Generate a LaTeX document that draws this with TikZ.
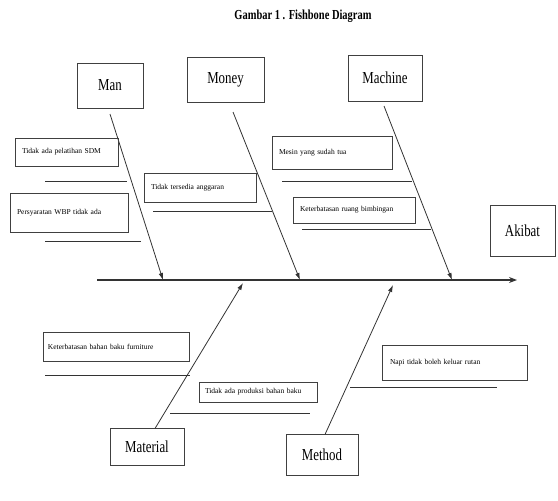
\documentclass[tikz,border=0pt]{standalone}
\usepackage{fontspec}
\setmainfont{Liberation Serif}
\usetikzlibrary{arrows.meta}
\newcommand{\tallcat}[1]{\scalebox{0.92}[1.2]{#1}}
\begin{document}
\begin{tikzpicture}[x=1pt,y=-1pt,
  catbox/.style={draw=black!75, line width=0.9pt, font=\fontsize{14}{16}\selectfont, inner sep=0pt},
  causebox/.style={draw=black!75, line width=0.9pt, font=\fontsize{7.5}{9}\selectfont, inner xsep=7pt, inner ysep=0pt, align=left},
  bone/.style={line width=0.8pt, black!80, -{Latex[length=7pt,width=4.5pt]}},
  spine/.style={line width=1.2pt, black!80, -{Stealth[length=8pt,width=6pt]}},
  subline/.style={line width=0.8pt, black!80}]
\useasboundingbox (0,0) rectangle (558,501);
% title
\node[font=\bfseries\fontsize{11}{13}\selectfont] (title) at (303,16) {\scalebox{0.95}[1.25]{Gambar 1 . Fishbone Diagram}};
% category boxes
\node[catbox, minimum width=66pt, minimum height=45pt] (man) at (110,85.5) {\tallcat{Man}};
\node[catbox, minimum width=77pt, minimum height=45pt] (money) at (225.5,79.5) {\tallcat{Money}};
\node[catbox, minimum width=74pt, minimum height=46pt] (machine) at (385,78) {\tallcat{Machine}};
\node[catbox, minimum width=65pt, minimum height=51pt] (akibat) at (522.5,230.5) {\tallcat{Akibat}};
\node[catbox, minimum width=74pt, minimum height=37pt] (material) at (147,447) {\tallcat{Material}};
\node[catbox, minimum width=72pt, minimum height=41pt] (method) at (322,455) {\tallcat{Method}};
% spine
\coordinate (tail) at (97,280);
\coordinate (head) at (517,280);
\draw[spine] (tail) -- (head);
% bone coordinates
\coordinate (manS) at (110,114);   \coordinate (manE) at (163,280);
\coordinate (monS) at (233,112);   \coordinate (monE) at (300,280);
\coordinate (macS) at (384,106);   \coordinate (macE) at (452,280);
\coordinate (matS) at (155,428.5); \coordinate (matE) at (243,283);
\coordinate (metS) at (325,434.5); \coordinate (metE) at (393,285);
\draw[bone] (manS) -- (manE);
\draw[bone] (monS) -- (monE);
\draw[bone] (macS) -- (macE);
\draw[bone] (matS) -- (matE);
\draw[bone] (metS) -- (metE);
% cause boxes
\node[causebox, text width=89pt, minimum height=28pt] (c1) at (66.5,152) {Tidak ada pelatihan SDM};
\node[causebox, text width=104pt, minimum height=39pt] (c2) at (69,212.5) {Persyaratan WBP tidak ada};
\node[causebox, text width=98pt, minimum height=29pt] (c3) at (200,187.5) {Tidak tersedia anggaran};
\node[causebox, text width=106pt, minimum height=33pt] (c4) at (332,152.5) {Mesin yang sudah tua};
\node[causebox, text width=108pt, minimum height=26pt] (c5) at (354,210) {Keterbatasan ruang bimbingan};
\node[causebox, inner xsep=5pt, text width=136pt, minimum height=29pt] (c6) at (116,346.5) {Keterbatasan bahan baku furniture};
\node[causebox, inner xsep=6pt, text width=106pt, minimum height=20pt] (c7) at (258,392) {Tidak ada produksi bahan baku};
\node[causebox, inner xsep=8pt, text width=129pt, minimum height=35pt] (c8) at (454.5,362.5) {Napi tidak boleh keluar rutan};
% sub lines
\coordinate (l1a) at (45,181);  \coordinate (l1b) at (127,181);
\coordinate (l2a) at (45,241);  \coordinate (l2b) at (141,241);
\coordinate (l3a) at (153,211); \coordinate (l3b) at (272,211);
\coordinate (l4a) at (282,181); \coordinate (l4b) at (412,181);
\coordinate (l5a) at (302,229); \coordinate (l5b) at (431,229);
\coordinate (l6a) at (45,375);  \coordinate (l6b) at (190,375);
\coordinate (l7a) at (170,413); \coordinate (l7b) at (310,413);
\coordinate (l8a) at (350,387); \coordinate (l8b) at (497,387);
\draw[subline] (l1a) -- (l1b);
\draw[subline] (l2a) -- (l2b);
\draw[subline] (l3a) -- (l3b);
\draw[subline] (l4a) -- (l4b);
\draw[subline] (l5a) -- (l5b);
\draw[subline] (l6a) -- (l6b);
\draw[subline] (l7a) -- (l7b);
\draw[subline] (l8a) -- (l8b);
\end{tikzpicture}
\end{document}
